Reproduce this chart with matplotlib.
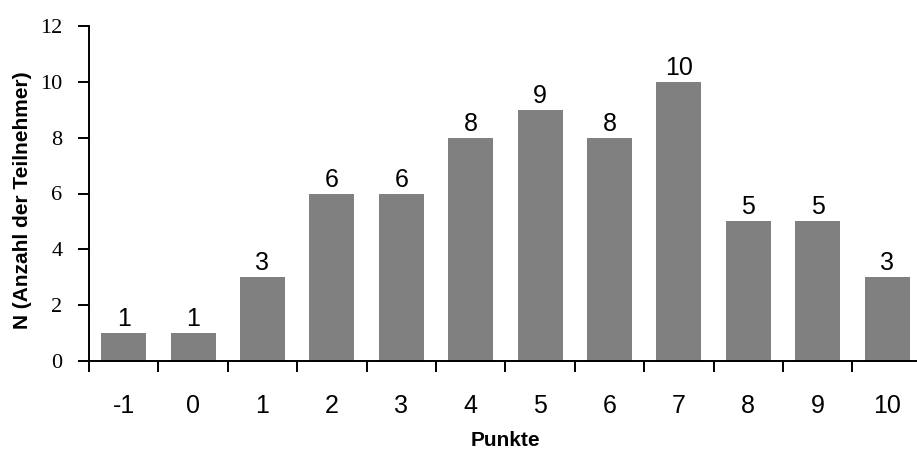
import numpy as np
import matplotlib.pyplot as plt
from matplotlib.ticker import FixedLocator

punkte = ['-1', '0', '1', '2', '3', '4', '5', '6', '7', '8', '9', '10']
anzahl = [1, 1, 3, 6, 6, 8, 9, 8, 10, 5, 5, 3]
y_ticks = [0, 2, 4, 6, 8, 10, 12]

W, H = 917, 453
X = np.arange(len(punkte))
fig = plt.figure(figsize=(W / 100, H / 100), dpi=100)
ax = fig.add_axes([89 / W, 1 - 361 / H, 1 - 89 / W, (361 - 26) / H])

ax.bar(X, anzahl, width=0.65, color='#808080')
for x, v in zip(X, anzahl):
    ax.annotate(str(v), (x, v), xytext=(0, 5), textcoords='offset points',
                ha='center', va='baseline', fontsize=18, family='Liberation Sans')

ax.set_xlim(-0.5, -0.5 + (W - 89) / 69.4)
ax.set_ylim(0, 12)
ax.set_yticks(y_ticks)
ax.set_yticklabels([str(t) for t in y_ticks], family='Liberation Serif', fontsize=16)

ax.set_xticks(X)
ax.set_xticklabels(punkte, family='Liberation Sans', fontsize=18)
ax.xaxis.set_minor_locator(FixedLocator(X - 0.5))
ax.tick_params(axis='x', which='major', length=0, pad=24)
ax.tick_params(axis='x', which='minor', length=8, width=1.4, direction='out')
ax.tick_params(axis='y', length=8, width=1.4, direction='out', pad=11)

for s in ['top', 'right']:
    ax.spines[s].set_visible(False)
for s in ['left', 'bottom']:
    ax.spines[s].set_linewidth(1.4)

fig.text(23 / W, 1 - 200 / H, 'N (Anzahl der Teilnehmer)', rotation=90,
         ha='center', va='center', family='Liberation Sans',
         fontweight='bold', fontsize=15)
fig.text(505 / W, 1 - 441 / H, 'Punkte', ha='center', va='center',
         family='Liberation Sans', fontweight='bold', fontsize=15)

fig.savefig('out.png', dpi=100)
